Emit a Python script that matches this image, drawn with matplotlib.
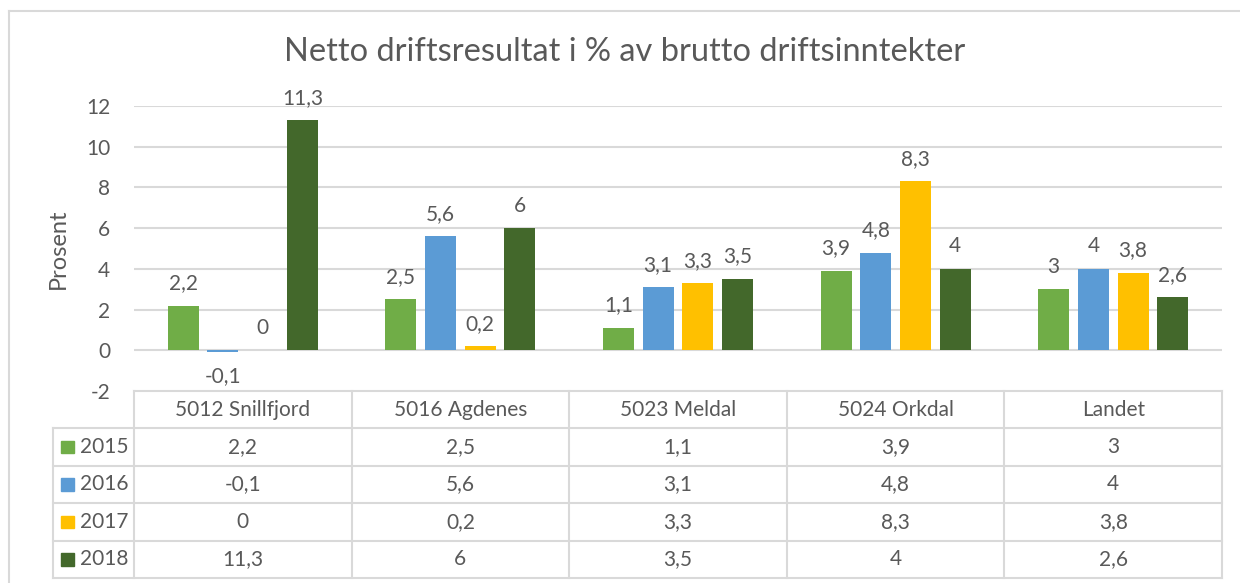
import matplotlib.pyplot as plt
from matplotlib.patches import Rectangle
from matplotlib.lines import Line2D
import numpy as np

# data
categories = ['5012 Snillfjord', '5016 Agdenes', '5023 Meldal', '5024 Orkdal', 'Landet']
years = ['2015', '2016', '2017', '2018']
v2015 = [2.2, 2.5, 1.1, 3.9, 3]
v2016 = [-0.1, 5.6, 3.1, 4.8, 4]
v2017 = [0, 0.2, 3.3, 8.3, 3.8]
v2018 = [11.3, 6, 3.5, 4, 2.6]
yticks = [-2, 0, 2, 4, 6, 8, 10, 12]

series = [v2015, v2016, v2017, v2018]
colors = ['#70AD47', '#5B9BD5', '#FFC000', '#43682B']
txt = '#595959'
grid = '#D9D9D9'
fs = 15

plt.rcParams['font.family'] = ['Lato', 'DejaVu Sans']

W, H = 1240, 583
fig = plt.figure(figsize=(W / 100, H / 100), dpi=100)

def fx(px):
    return px / W

def fy(py):
    return 1 - py / H

# outer chart border (left + top visible)
fig.add_artist(Line2D([fx(8.5), fx(8.5)], [fy(10.5), fy(600)], color=grid, lw=1.5))
fig.add_artist(Line2D([fx(8.5), fx(1260)], [fy(10.5), fy(10.5)], color=grid, lw=1.5))

fig.text(fx(625), fy(52), 'Netto driftsresultat i % av brutto driftsinntekter',
         ha='center', va='center', fontsize=23.5, color=txt)

# main bar axes
left, right, top, bottom = 134, 1222, 106, 391
ax = fig.add_axes([fx(left), fy(bottom), fx(right - left), fy(top) - fy(bottom)])
ax.set_xlim(-0.5, len(categories) - 0.5)
ax.set_ylim(-2, 12)
for s in ax.spines.values():
    s.set_visible(False)
ax.set_xticks([])
ax.set_yticks(yticks)
ax.set_yticklabels([str(t) for t in yticks])
ax.tick_params(axis='y', length=0, labelsize=fs, labelcolor=txt, pad=17)
for t in yticks[1:]:
    ax.axhline(t, color=grid, lw=1.5, zorder=0)
ax.set_ylabel('Prosent', fontsize=17, color=txt)
ax.yaxis.set_label_coords((69 - left) / (right - left), 0.5)

x = np.arange(len(categories))
pitch = 0.1825
width = 0.1425
for i, (vals, c) in enumerate(zip(series, colors)):
    xs = x + (i - 1.5) * pitch
    ax.bar(xs, vals, width=width, color=c, zorder=2)
    for xi, v in zip(xs, vals):
        lab = ('%g' % v).replace('.', ',')
        if v < 0:
            ax.annotate(lab, (xi, v), xytext=(0, -10), textcoords='offset points',
                        ha='center', va='top', fontsize=fs, color=txt)
        else:
            ax.annotate(lab, (xi, v), xytext=(0, 9), textcoords='offset points',
                        ha='center', va='bottom', fontsize=fs, color=txt)

# data table below
tleft, tbottom = 53, 578
tab = fig.add_axes([fx(tleft), fy(tbottom), fx(right - tleft), fy(bottom) - fy(tbottom)])
colw = (right - left) / len(categories)
x0 = -0.5 - (left - tleft) / colw
tab.set_xlim(x0, len(categories) - 0.5)
tab.set_ylim(5, 0)
tab.axis('off')

lw = 1.5
# horizontal lines
tab.plot([-0.5, len(categories) - 0.5], [0, 0], color=grid, lw=lw, clip_on=False)
for r in range(1, 6):
    tab.plot([x0, len(categories) - 0.5], [r, r], color=grid, lw=lw, clip_on=False)
# vertical lines
tab.plot([x0, x0], [1, 5], color=grid, lw=lw, clip_on=False)
for k in range(len(categories) + 1):
    tab.plot([k - 0.5, k - 0.5], [0, 5], color=grid, lw=lw, clip_on=False)

for j, cat in enumerate(categories):
    tab.text(j, 0.5, cat, ha='center', va='center', fontsize=fs, color=txt)
for i, (yr, vals, c) in enumerate(zip(years, series, colors)):
    yc = i + 1.5
    tab.add_patch(Rectangle((x0 + 0.037, yc - 0.17), 0.06, 0.34, color=c, clip_on=False))
    tab.text(x0 + 0.125, yc, yr, ha='left', va='center', fontsize=fs, color=txt)
    for j, v in enumerate(vals):
        tab.text(j, yc, ('%g' % v).replace('.', ','), ha='center', va='center',
                 fontsize=fs, color=txt)

fig.savefig('out.png', dpi=100)
